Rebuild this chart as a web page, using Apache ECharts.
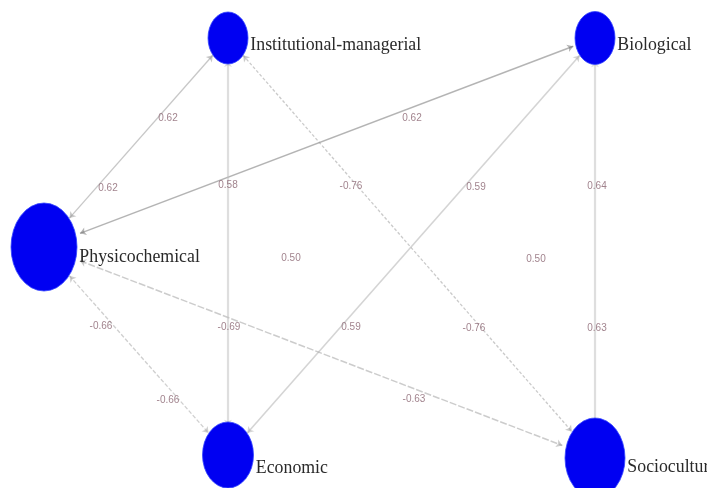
<!DOCTYPE html>
<html>
<head>
<meta charset="utf-8">
<script src="https://cdn.jsdelivr.net/npm/echarts@6/dist/echarts.min.js"></script>
<style>html,body{margin:0;padding:0;background:#fff}#c{width:707px;height:488px}</style>
</head>
<body>
<div id="c"></div>
<script>
// Nodes (layout positions in the 707x488 plane)
var nodeNames = ['Physicochemical', 'Institutional-managerial', 'Biological', 'Economic', 'Sociocultural'];
var nodeX = [44, 228, 595, 228, 595];
var nodeY = [247, 38, 38, 455, 458];

// Edges (bidirectional) and their weights
var edgeSource = ['Physicochemical', 'Physicochemical', 'Physicochemical', 'Physicochemical', 'Institutional-managerial', 'Institutional-managerial', 'Biological', 'Biological'];
var edgeTarget = ['Institutional-managerial', 'Biological', 'Economic', 'Sociocultural', 'Economic', 'Sociocultural', 'Economic', 'Sociocultural'];
var edgeWeight = [0.62, 0.62, -0.66, -0.69, 0.58, -0.76, 0.59, 0.64];

// Weight labels as printed on the plot
var labelText = ['0.62', '0.62', '0.62', '0.58', '-0.76', '0.59', '0.64', '0.50', '0.50', '-0.66', '-0.69', '0.59', '-0.76', '0.63', '-0.66', '-0.63'];
var labelX = [168, 108, 412, 228, 351, 476, 597, 291, 536, 101, 229, 351, 474, 597, 168, 414];
var labelY = [118, 188, 118, 185, 186, 187, 186, 258, 259, 326, 327, 327, 328, 328, 400, 399];

// ---- styles (kept separate from data) ----
var nodeSizes = [[66, 88], [40, 52], [40, 53], [51, 66], [60, 80]];
var nodeLabelOffsetY = [10, 7, 7, 13, 9];
var edgeStyles = [
  {color: '#8f8f8f', width: 1.3, type: 'solid'},
  {color: '#6a6a6a', width: 1.5, type: 'solid'},
  {color: '#a0a0a0', width: 1.3, type: [4, 2]},
  {color: '#999999', width: 1.5, type: [7, 2]},
  {color: '#bdbdbd', width: 2.2, type: 'solid'},
  {color: '#959595', width: 1.3, type: [3, 2]},
  {color: '#aaaaaa', width: 1.6, type: 'solid'},
  {color: '#bdbdbd', width: 2.2, type: 'solid'}
];

var ellipse = 'path://M0 50 A50 50 0 1 1 100 50 A50 50 0 1 1 0 50 Z';

var nodes = nodeNames.map(function (n, i) {
  return {
    name: n,
    value: [nodeX[i], nodeY[i]],
    symbolSize: nodeSizes[i],
    label: {offset: [0, nodeLabelOffsetY[i]]}
  };
});
var links = edgeSource.map(function (s, i) {
  return {
    source: s,
    target: edgeTarget[i],
    value: edgeWeight[i],
    lineStyle: edgeStyles[i]
  };
});
var labelData = labelText.map(function (t, i) { return [labelX[i], labelY[i], t]; });

var chart = echarts.init(document.getElementById('c'), null, {renderer: 'canvas'});
chart.setOption({
  animation: false,
  backgroundColor: '#ffffff',
  grid: {left: 0, right: 0, top: 0, bottom: 0},
  xAxis: {type: 'value', min: 0, max: 707, show: false},
  yAxis: {type: 'value', min: 0, max: 488, inverse: true, show: false},
  series: [
    {
      type: 'graph',
      coordinateSystem: 'cartesian2d',
      symbol: ellipse,
      symbolKeepAspect: false,
      itemStyle: {color: '#0000f2', borderColor: '#3344ff', borderWidth: 0.8},
      label: {
        show: true,
        position: 'right',
        distance: 2,
        formatter: '{b}',
        fontFamily: 'Liberation Serif',
        fontSize: 17.8,
        color: '#2a2a2a'
      },
      edgeSymbol: ['arrow', 'arrow'],
      edgeSymbolSize: 6,
      emphasis: {disabled: true},
      data: nodes,
      links: links,
      z: 2
    },
    {
      type: 'scatter',
      symbolSize: 0,
      silent: true,
      data: labelData,
      label: {
        show: true,
        position: 'inside',
        formatter: function (p) { return p.data[2]; },
        fontFamily: 'Liberation Sans',
        fontSize: 10,
        color: '#8a6470'
      },
      z: 3
    }
  ]
});
</script>
</body>
</html>
